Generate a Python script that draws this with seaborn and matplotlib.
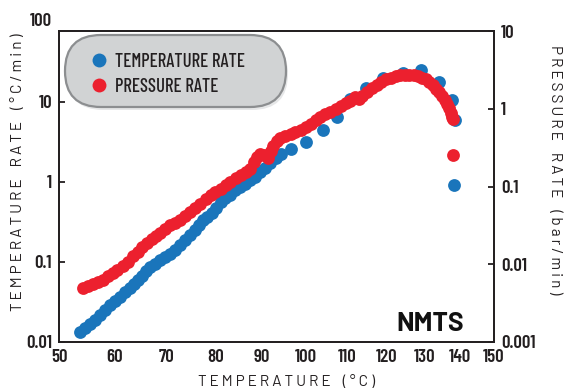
import numpy as np
import pandas as pd
import matplotlib
matplotlib.use("Agg")
import matplotlib.pyplot as plt
import seaborn as sns
from matplotlib import font_manager, transforms
from matplotlib.patches import FancyBboxPatch
from matplotlib.lines import Line2D
from matplotlib.ticker import NullLocator, FixedLocator

# ---------------- data ----------------
temp_T = [53.7, 54.6, 55.5, 56.5, 57.4, 58.3, 59.3, 60.2, 61.1, 62.0,
          62.9, 63.7, 64.5, 65.3, 66.1, 66.9, 67.8, 68.8, 69.8, 70.8,
          71.8, 72.8, 73.8, 74.8, 75.7, 76.6, 77.5, 78.3, 79.2, 80.1,
          81.1, 82.1, 83.2, 84.2, 85.3, 86.4, 87.5, 88.6, 89.7, 90.8,
          91.9, 93.1, 94.3, 96.5, 100.0, 104.0, 107.6, 110.8, 114.6, 119.0,
          124.2, 129.1, 134.0, 137.7, 138.5, 138.3]
temp_rate = [0.0133, 0.0151, 0.0170, 0.0191, 0.0219, 0.0251, 0.0288, 0.0324, 0.0363, 0.0417,
             0.0468, 0.0525, 0.0589, 0.0676, 0.0776, 0.0871, 0.0955, 0.105, 0.115, 0.126,
             0.141, 0.162, 0.186, 0.219, 0.251, 0.288, 0.331, 0.363, 0.407, 0.479,
             0.562, 0.631, 0.692, 0.794, 0.871, 0.955, 1.06, 1.17, 1.32, 1.51,
             1.74, 2.00, 2.24, 2.57, 3.16, 4.47, 6.46, 11.0, 15.0, 20.0,
             22.9, 25.1, 17.8, 10.7, 6.0, 0.91]

pres_T = [54.3, 55.2, 56.1, 57.0, 57.9, 58.8, 59.7, 60.6, 61.7, 62.6,
          63.5, 64.4, 65.3, 66.2, 67.1, 68.0, 68.8, 69.8, 70.8, 71.8,
          72.8, 73.8, 74.8, 75.8, 76.9, 78.0, 79.0, 80.0, 81.1, 82.2,
          83.2, 84.3, 85.4, 86.5, 87.5, 88.3, 89.0, 89.7, 90.6, 91.5,
          92.1, 92.6, 93.4, 94.2, 95.3, 96.5, 97.6, 98.8, 100.0, 101.2,
          102.4, 103.5, 104.7, 105.9, 107.2, 108.4, 109.6, 110.8, 112.0, 112.9,
          113.8, 115.0, 116.2, 117.4, 118.6, 119.8, 121.0, 122.3, 123.5, 124.8,
          126.0, 127.2, 128.3, 129.4, 130.4, 131.4, 132.4, 133.3, 134.2, 135.0,
          135.7, 136.3, 136.9, 137.4, 137.8, 138.1, 138.0]
pres_rate = [0.00495, 0.00525, 0.00562, 0.00589, 0.00631, 0.00708, 0.00776, 0.00832, 0.00955, 0.0107,
             0.0126, 0.0145, 0.0166, 0.0186, 0.0214, 0.0234, 0.0251, 0.0282, 0.0316, 0.0339,
             0.0372, 0.0417, 0.0468, 0.0525, 0.0590, 0.0690, 0.0780, 0.0860, 0.0940, 0.105,
             0.115, 0.127, 0.139, 0.152, 0.170, 0.205, 0.240, 0.262, 0.251, 0.234,
             0.282, 0.335, 0.380, 0.417, 0.447, 0.479, 0.501, 0.537, 0.589, 0.646,
             0.708, 0.776, 0.851, 0.912, 1.00, 1.07, 1.17, 1.26, 1.41, 1.32,
             1.45, 1.66, 1.86, 2.04, 2.24, 2.40, 2.51, 2.63, 2.69, 2.72,
             2.72, 2.69, 2.63, 2.51, 2.40, 2.24, 2.04, 1.82, 1.62, 1.45,
             1.29, 1.15, 1.02, 0.891, 0.794, 0.741, 0.254]

x_ticks = [50, 60, 70, 80, 90, 100, 110, 120, 130, 140, 150]
left_ticks = [0.01, 0.1, 1, 10]
left_labels = ["0.01", "0.1", "1", "10"]
left_top_label = "100"
right_ticks = [0.001, 0.01, 0.1, 1, 10]
right_labels = ["0.001", "0.01", "0.1", "1", "10"]
series_names = ["TEMPERATURE RATE", "PRESSURE RATE"]

# ---------------- style ----------------
BLUE = "#1a75bb"
RED = "#ec202e"
INK = "#231f20"

sns.set_theme(style="white")
names = {f.name for f in font_manager.fontManager.ttflist}


def pick(*cands):
    for c in cands:
        if c in names:
            return c
    return "DejaVu Sans"


COND = pick("Barlow Condensed", "Archivo Narrow", "Liberation Sans Narrow")
PLAIN = pick("Barlow", "Barlow Semi Condensed", "Liberation Sans")
BOLDF = pick("Barlow", "Barlow Semi Condensed", "Liberation Sans")
plt.rcParams["font.family"] = [COND, "DejaVu Sans"]

fig = plt.figure(figsize=(5.67, 3.9), dpi=100)
ax = fig.add_axes([59 / 567, 48 / 390, 435 / 567, 311 / 390])


def fwd(t):
    with np.errstate(divide="ignore", invalid="ignore"):
        return -1.0 / (np.asarray(t, dtype=float) + 273.15)


def inv(u):
    with np.errstate(divide="ignore", invalid="ignore"):
        return -1.0 / np.asarray(u, dtype=float) - 273.15


ax.set_xscale("function", functions=(fwd, inv))
ax.set_yscale("log")
ax2 = ax.twinx()
ax2.set_yscale("log")

df_t = pd.DataFrame({"T": temp_T, "rate": temp_rate})
df_p = pd.DataFrame({"T": pres_T, "rate": pres_rate})
sns.scatterplot(data=df_t, x="T", y="rate", ax=ax, color=BLUE, s=85,
                linewidth=0, legend=False, zorder=3)
sns.scatterplot(data=df_p, x="T", y="rate", ax=ax2, color=RED, s=85,
                linewidth=0, legend=False, zorder=3)

ax.set_xlim(50, 150)
ax.set_ylim(0.01, 77)
ax2.set_ylim(0.001, 10)

ax.xaxis.set_major_locator(FixedLocator(x_ticks))
ax.set_xticklabels([str(t) for t in x_ticks])
ax.xaxis.set_minor_locator(NullLocator())
ax.yaxis.set_major_locator(FixedLocator(left_ticks))
ax.set_yticklabels(left_labels)
ax.yaxis.set_minor_locator(NullLocator())
ax2.yaxis.set_major_locator(FixedLocator(right_ticks))
ax2.set_yticklabels(right_labels)
ax2.yaxis.set_minor_locator(NullLocator())

TICK_FS = 13.5
tick_kw = dict(direction="in", length=4.5, width=1.3, color=INK,
               labelcolor=INK, labelsize=TICK_FS, pad=5)
ax.tick_params(axis="both", which="major", **tick_kw)
ax.tick_params(top=False, right=False)
ax2.tick_params(axis="y", which="major", **tick_kw)

for lbl in ax.get_xticklabels() + ax.get_yticklabels() + ax2.get_yticklabels():
    lbl.set_fontfamily([COND, "DejaVu Sans"])
    lbl.set_fontweight("semibold")

for a in (ax, ax2):
    for sp in a.spines.values():
        sp.set_visible(True)
        sp.set_color(INK)
        sp.set_linewidth(1.3)
    a.grid(False)

# "100" label sits above the plotting area in the reference
blend = transforms.blended_transform_factory(ax.transAxes, ax.transData)
ax.text(-7 / 435, 100, left_top_label, transform=blend, ha="right", va="center",
        fontsize=TICK_FS, fontweight="semibold", color=INK,
        family=[COND, "DejaVu Sans"], clip_on=False)


def spaced(s):
    return "    ".join(" ".join(w) for w in s.split(" "))


lab_kw = dict(fontsize=11, color=INK, family=[PLAIN, "DejaVu Sans"], va="center")
ax.set_xlabel(spaced("TEMPERATURE (°C)"), **lab_kw)
ax.xaxis.set_label_coords(228 / 435, -40 / 311)
ax.set_ylabel(spaced("TEMPERATURE RATE (°C/min)"), **lab_kw)
ax.yaxis.set_label_coords(-41 / 435, 170 / 311)
ax2.set_ylabel(spaced("PRESSURE RATE (bar/min)"), rotation=-90, **lab_kw)
ax2.yaxis.set_label_coords(496 / 435, 172 / 311)

# NMTS tag
ax.text(371.5 / 435, 11 / 311, "NMTS", transform=ax.transAxes, ha="center",
        va="baseline", fontsize=19, fontweight="bold", color="#111111",
        family=[BOLDF, "DejaVu Sans"])

# pill-shaped legend (pixel coordinates)
idt = transforms.IdentityTransform()
shadow = FancyBboxPatch((67, 280), 221, 72, boxstyle="round,pad=0,rounding_size=36",
                        transform=idt, fc="#e6e7e8", ec="none", zorder=5)
pill = FancyBboxPatch((65, 283), 221, 72, boxstyle="round,pad=0,rounding_size=36",
                      transform=idt, fc="#d1d3d4", ec="#8c8e90", lw=1.6, zorder=6)
fig.add_artist(shadow)
fig.add_artist(pill)
for yy, col, name in [(330, BLUE, series_names[0]), (305, RED, series_names[1])]:
    fig.add_artist(Line2D([99], [yy], marker="o", ms=10, color=col, mec="none",
                          transform=idt, zorder=7))
    fig.text(115 / 567, (yy - 7) / 390, name, ha="left", va="baseline",
             fontsize=13.5, fontweight="medium", color=INK,
             family=[COND, "DejaVu Sans"], zorder=7)

fig.savefig("out.png", dpi=100)
